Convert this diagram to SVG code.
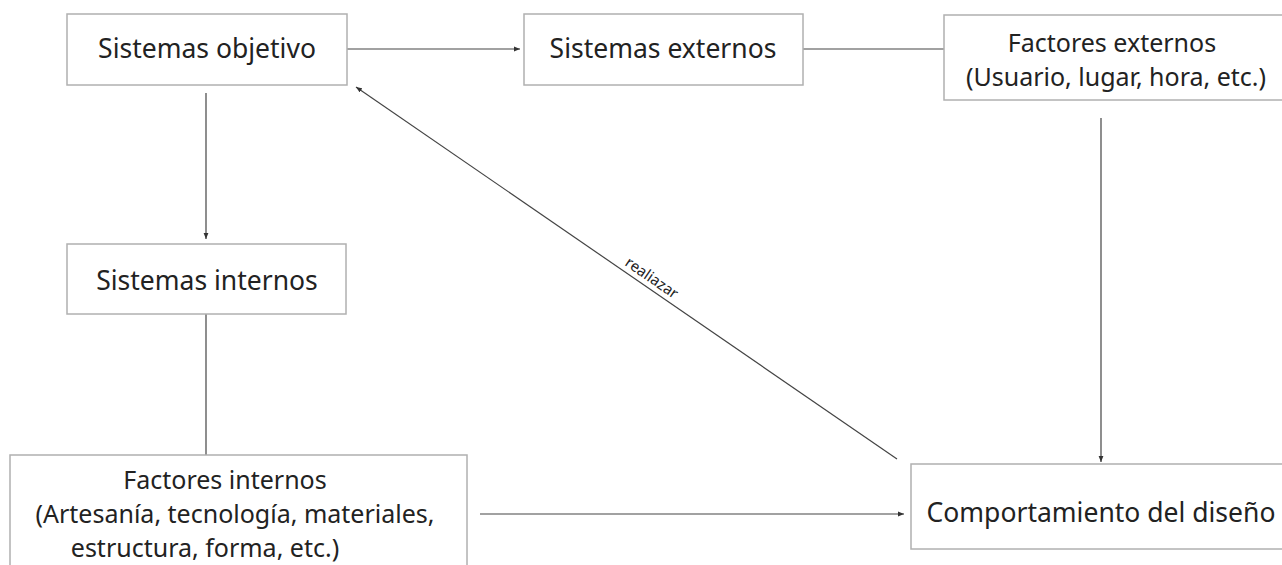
<svg xmlns="http://www.w3.org/2000/svg" width="1282" height="565" viewBox="0 0 1282 565">
<style>
.box{fill:#fff;stroke:#b0b0b0;stroke-width:1.5}
.t{font-family:"Noto Sans","Open Sans",sans-serif;font-size:26.5px;fill:#222;text-anchor:middle}
.m{font-size:25px}
.c{stroke:#444;stroke-width:1.2;fill:none}
.lbl{font-family:"Noto Sans","Open Sans",sans-serif;font-size:15px;fill:#222;text-anchor:middle}
</style>
<defs>
<marker id="a" viewBox="0 0 10 10" refX="10" refY="5" markerWidth="6" markerHeight="6" orient="auto" markerUnits="userSpaceOnUse">
<path d="M0,1 L10,5 L0,9 z" fill="#333"/>
</marker>
</defs>
<rect width="1282" height="565" fill="#fff"/>
<g id="connectors">
<line class="c" x1="347" y1="49" x2="520" y2="49" marker-end="url(#a)"/>
<line class="c" x1="803" y1="49" x2="944" y2="49"/>
<line class="c" x1="206" y1="93" x2="206" y2="239" marker-end="url(#a)"/>
<line class="c" x1="206" y1="314" x2="206" y2="455"/>
<line class="c" x1="1101" y1="118" x2="1101" y2="462" marker-end="url(#a)"/>
<line class="c" x1="480" y1="514" x2="904" y2="514" marker-end="url(#a)"/>
<line class="c" x1="897" y1="459" x2="356" y2="87" marker-end="url(#a)"/>
<text class="lbl" transform="translate(649,282) rotate(34.5)">realiazar</text>
</g>
<g id="n1"><rect class="box" x="67" y="14" width="280" height="71"/><text class="t" x="207" y="58">Sistemas objetivo</text></g>
<g id="n2"><rect class="box" x="524" y="14" width="279" height="71"/><text class="t" x="663" y="58">Sistemas externos</text></g>
<g id="n3"><rect class="box" x="944" y="15" width="345" height="85"/><text class="t m"><tspan x="1112" y="52">Factores externos</tspan><tspan x="1116" y="86">(Usuario, lugar, hora, etc.)</tspan></text></g>
<g id="n4"><rect class="box" x="67" y="244" width="279" height="70"/><text class="t" x="207" y="290">Sistemas internos</text></g>
<g id="n5"><rect class="box" x="10" y="455" width="457" height="120"/><text class="t m"><tspan x="225" y="489">Factores internos</tspan><tspan x="235" y="523">(Artesanía, tecnología, materiales,</tspan><tspan x="205" y="557">estructura, forma, etc.)</tspan></text></g>
<g id="n6"><rect class="box" x="911" y="464" width="380" height="85"/><text class="t" x="1101" y="522">Comportamiento del diseño</text></g>
</svg>
